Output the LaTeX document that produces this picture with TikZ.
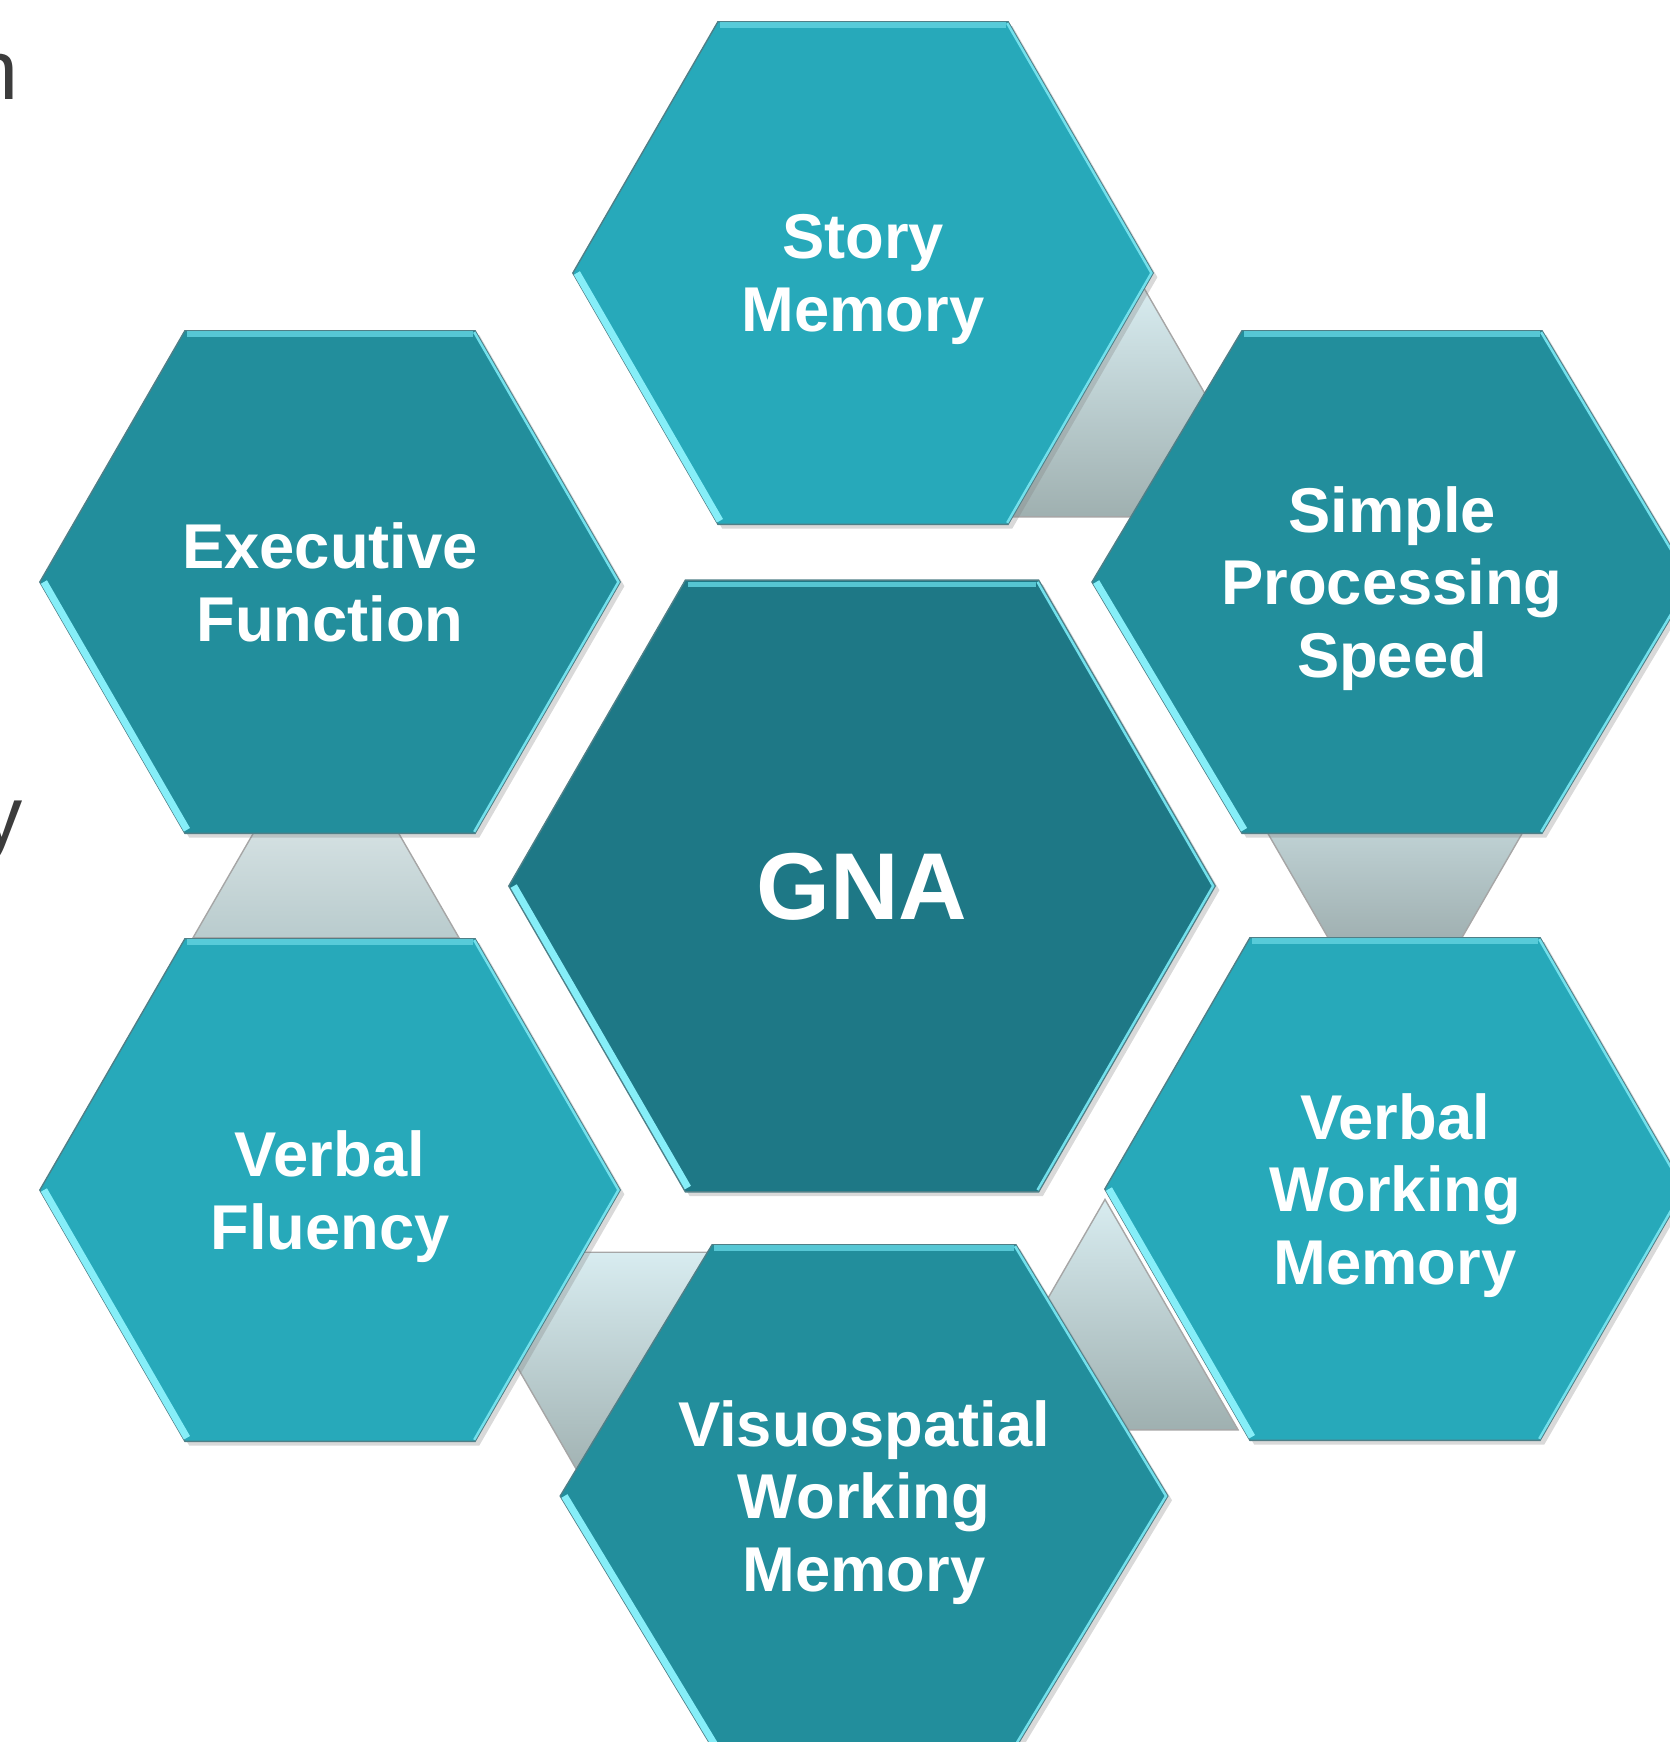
\documentclass[tikz,border=0pt]{standalone}
\usepackage{fontspec}
\setmainfont{Liberation Sans}
\usetikzlibrary{shapes.geometric,calc,shadows}

\definecolor{tealLight}{HTML}{27A9BA}
\definecolor{tealMid}{HTML}{228E9C}
\definecolor{tealDark}{HTML}{1E7886}
\definecolor{rimLight}{HTML}{86EEF8}
\definecolor{rimEdge}{HTML}{4F7F87}
\definecolor{linkTop}{HTML}{D8ECF0}
\definecolor{linkBot}{HTML}{9FB0B0}
\definecolor{slideText}{HTML}{3C3C3C}

% bevel strips along the edges of a hexagon
\newcommand{\hexrim}[1]{%
  \draw[rim top] ($(#1.120)!.014!(#1.center)$) -- ($(#1.60)!.014!(#1.center)$);
  \draw[rim low] ($(#1.180)!.014!(#1.center)$) -- ($(#1.240)!.014!(#1.center)$);
  \draw[rim thin] ($(#1.60)!.006!(#1.center)$) -- ($(#1.0)!.006!(#1.center)$) -- ($(#1.300)!.006!(#1.center)$);
}

\begin{document}
\begin{tikzpicture}[x=0.01cm, y=-0.01cm,
    hexbox/.style={regular polygon, regular polygon sides=6, minimum size=5.8cm,
      inner sep=0pt, outer sep=0pt, draw=rimEdge, line width=0.4pt,
      drop shadow={shadow xshift=1.2pt, shadow yshift=-1.2pt, opacity=.3}},
    hextext/.style={text=white, align=center, inner sep=0pt, text depth=0pt,
      font=\bfseries\fontsize{18}{20.7}\selectfont},
    link/.style={regular polygon, regular polygon sides=3, minimum size=3.07cm,
      inner sep=0pt, outer sep=0pt, draw=black!35, line width=0.4pt,
      top color=linkTop, bottom color=linkBot},
    rim top/.style={draw=rimLight!60!tealLight, line width=1.6pt, opacity=.85},
    rim low/.style={draw=rimLight, line width=2pt},
    rim thin/.style={draw=rimLight!80!tealLight, line width=0.7pt},
    cut/.style={inner sep=0pt, text=slideText, font=\fontsize{24}{28}\selectfont}]

  \useasboundingbox (0,0) rectangle (1670,1742);
  \clip (0,0) rectangle (1670,1742);

  % slide text running in from the left
  \node[cut, anchor=base east] (tailn) at (19,99) {n};
  \node[cut, anchor=base east] (taily) at (23,845) {y};

  % grey links behind the ring
  \node[link] (l1) at (1143,440) {};
  \node[link, shape border rotate=180, top color=linkTop!60!linkBot, bottom color=linkBot!80!black] (l2) at (1395,900) {};
  \node[link, top color=white!70!linkTop, bottom color=linkTop!45!linkBot] (l3) at (326,861) {};
  \node[link, shape border rotate=180] (l4) at (584,1329) {};
  \node[link] (l5) at (1105,1353) {};

  % outer ring
  \node[hexbox, fill=tealLight] (story) at (863,273) {};
  \node[hexbox, fill=tealMid] (exec) at (330,582) {};
  \node[hexbox, fill=tealMid, xscale=1.034] (speed) at (1392,582) {};
  \node[hexbox, fill=tealLight] (fluency) at (330,1190) {};
  \node[hexbox, fill=tealLight] (vwm) at (1395,1189) {};
  \node[hexbox, fill=tealMid, xscale=1.047] (vswm) at (864,1496) {};

  % centre
  \node[hexbox, fill=tealDark, minimum size=7.06cm] (gna) at (862,886) {};

  \hexrim{story}
  \hexrim{exec}
  \hexrim{speed}
  \hexrim{fluency}
  \hexrim{vwm}
  \hexrim{vswm}
  \hexrim{gna}

  % labels
  \node[hextext] (storyt) at (story) {Story\\Memory};
  \node[hextext] (exect) at (exec) {Executive\\Function};
  \node[hextext] (speedt) at (speed) {Simple\\Processing\\Speed};
  \node[hextext] (fluencyt) at (fluency) {Verbal\\Fluency};
  \node[hextext] (vwmt) at (vwm) {Verbal\\Working\\Memory};
  \node[hextext] (vswmt) at (vswm) {Visuospatial\\Working\\Memory};
  \node[hextext, font=\bfseries\fontsize{27}{31}\selectfont] (gnat) at (gna) {GNA};

\end{tikzpicture}
\end{document}
